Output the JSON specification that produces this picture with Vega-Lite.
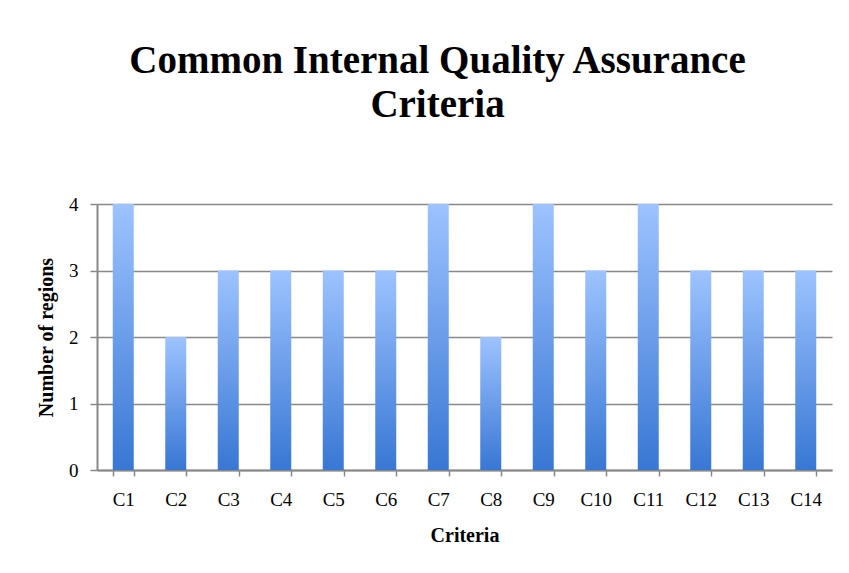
{
  "$schema": "https://vega.github.io/schema/vega-lite/v6.json",
  "width": 735,
  "height": 266,
  "autosize": {"type": "none"},
  "padding": {"left": 97, "top": 204, "right": 17, "bottom": 103},
  "background": "white",
  "title": {
    "text": ["Common Internal Quality Assurance", "Criteria"],
    "font": "Liberation Serif",
    "fontSize": 39,
    "fontWeight": "bold",
    "color": "black",
    "lineHeight": 44,
    "anchor": "middle",
    "dx": -27,
    "offset": 70
  },
  "data": {
    "values": [
      {"criterion": "C1", "regions": 4},
      {"criterion": "C2", "regions": 2},
      {"criterion": "C3", "regions": 3},
      {"criterion": "C4", "regions": 3},
      {"criterion": "C5", "regions": 3},
      {"criterion": "C6", "regions": 3},
      {"criterion": "C7", "regions": 4},
      {"criterion": "C8", "regions": 2},
      {"criterion": "C9", "regions": 4},
      {"criterion": "C10", "regions": 3},
      {"criterion": "C11", "regions": 4},
      {"criterion": "C12", "regions": 3},
      {"criterion": "C13", "regions": 3},
      {"criterion": "C14", "regions": 3}
    ]
  },
  "mark": {
    "type": "bar",
    "color": {
      "gradient": "linear",
      "x1": 0, "y1": 0, "x2": 0, "y2": 1,
      "stops": [
        {"offset": 0, "color": "#9dc3ff"},
        {"offset": 1, "color": "#3877d4"}
      ]
    }
  },
  "encoding": {
    "x": {
      "field": "criterion",
      "type": "nominal",
      "sort": null,
      "scale": {"paddingInner": 0.6, "paddingOuter": 0.3},
      "axis": {
        "title": "Criteria",
        "titleFont": "Liberation Serif",
        "titleFontSize": 20,
        "titleFontWeight": "bold",
        "titleColor": "black",
        "titlePadding": 16,
        "labelFont": "Liberation Serif",
        "labelFontSize": 19,
        "labelColor": "black",
        "labelAngle": 0,
        "labelPadding": 14,
        "tickBand": "extent",
        "tickSize": 6,
        "tickColor": "#888888",
        "tickWidth": 1.5,
        "domainColor": "#888888",
        "domainWidth": 2
      }
    },
    "y": {
      "field": "regions",
      "type": "quantitative",
      "scale": {"domain": [0, 4], "nice": false},
      "axis": {
        "title": "Number of regions",
        "titleFont": "Liberation Serif",
        "titleFontSize": 20,
        "titleFontWeight": "bold",
        "titleColor": "black",
        "titlePadding": 12,
        "labelFont": "Liberation Serif",
        "labelFontSize": 19,
        "labelColor": "black",
        "labelPadding": 12,
        "values": [0, 1, 2, 3, 4],
        "format": "d",
        "tickSize": 7,
        "tickColor": "#888888",
        "tickWidth": 1.5,
        "domainColor": "#888888",
        "domainWidth": 2,
        "grid": true,
        "gridColor": "#888888",
        "gridWidth": 1.5
      }
    }
  },
  "config": {
    "view": {"stroke": null}
  }
}
